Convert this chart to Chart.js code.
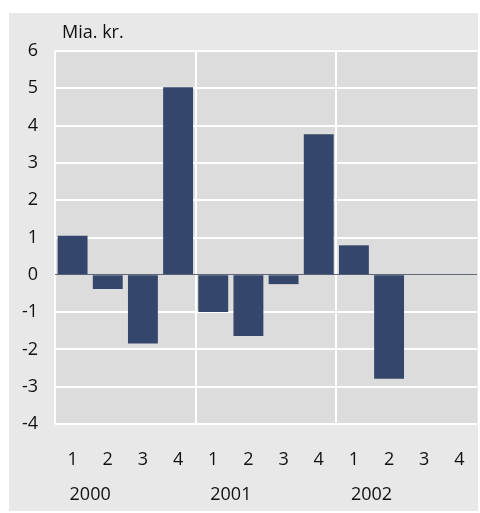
<!DOCTYPE html>
<html>
<head>
<meta charset="utf-8">
<script src="https://cdn.jsdelivr.net/npm/chart.js@4"></script>
<style>
  html, body { margin: 0; padding: 0; background: #ffffff; overflow: hidden; }
  #panel { position: absolute; left: 9px; top: 13px; width: 469px; height: 498px; background: #e8e8e8; }
  #myChart { display: block; }
</style>
</head>
<body>
<div id="panel"><canvas id="myChart" width="469" height="498"></canvas></div>
<script>
const quarters = ["1", "2", "3", "4", "1", "2", "3", "4", "1", "2", "3", "4"];
const years = ["2000", "2001", "2002"];
const values = [1.05, -0.38, -1.84, 5.03, -1.0, -1.64, -0.25, 3.77, 0.79, -2.79, null, null];
const yTicks = [-4, -3, -2, -1, 0, 1, 2, 3, 4, 5, 6];
const unitLabel = "Mia. kr.";

const fontFamily = "'Open Sans', 'Noto Sans', sans-serif";

const extras = {
  id: "extras",
  beforeDraw(chart) {
    const { ctx, chartArea } = chart;
    ctx.save();
    ctx.fillStyle = "#dcdcdc";
    ctx.fillRect(chartArea.left, chartArea.top, chartArea.right - chartArea.left, chartArea.bottom - chartArea.top);
    ctx.restore();
  },
  afterDraw(chart) {
    const { ctx, chartArea } = chart;
    const x = chart.scales.x;
    ctx.save();
    ctx.fillStyle = "#111111";
    ctx.font = "18px " + fontFamily;
    ctx.textBaseline = "middle";
    ctx.textAlign = "left";
    ctx.fillText(unitLabel, chartArea.left + 7, chartArea.top - 18);
    ctx.textAlign = "center";
    years.forEach((yr, i) => {
      const mid = (x.getPixelForValue(i * 4) + x.getPixelForValue(i * 4 + 1)) / 2;
      ctx.fillText(yr, mid, chartArea.bottom + 71);
    });
    ctx.restore();
  },
};

new Chart("myChart", {
  type: "bar",
  data: {
    labels: quarters,
    datasets: [
      {
        data: values,
        backgroundColor: "#34466b",
        borderWidth: 0,
        categoryPercentage: 1,
        barPercentage: 0.85,
      },
    ],
  },
  options: {
    responsive: false,
    animation: false,
    layout: { padding: { top: 38, right: 1, left: 0, bottom: 0 } },
    plugins: {
      legend: { display: false },
      tooltip: { enabled: false },
    },
    scales: {
      x: {
        afterFit(scale) {
          scale.height = 87;
          scale.paddingLeft = 0;
          scale.paddingRight = 0;
        },
        border: { display: false },
        grid: {
          offset: true,
          drawTicks: false,
          lineWidth: 2,
          color: (c) => (c.index % 4 === 0 ? "#ffffff" : "rgba(0,0,0,0)"),
        },
        ticks: {
          padding: 25,
          color: "#111111",
          font: { size: 18, family: fontFamily },
          maxRotation: 0,
          autoSkip: false,
        },
      },
      y: {
        min: -4,
        max: 6,
        afterFit(scale) {
          scale.width = 46;
          scale.paddingTop = 0;
          scale.paddingBottom = 0;
        },
        afterBuildTicks(scale) { scale.ticks = yTicks.map((v) => ({ value: v })); },
        border: { display: false },
        grid: {
          drawTicks: false,
          lineWidth: (c) => (c.tick && c.tick.value === 0 ? 1 : 2),
          color: (c) => (c.tick && c.tick.value === 0 ? "#5f6878" : "#ffffff"),
        },
        ticks: {
          padding: 17,
          color: "#111111",
          font: { size: 18, family: fontFamily },
        },
      },
    },
  },
  plugins: [extras],
});
</script>
</body>
</html>
